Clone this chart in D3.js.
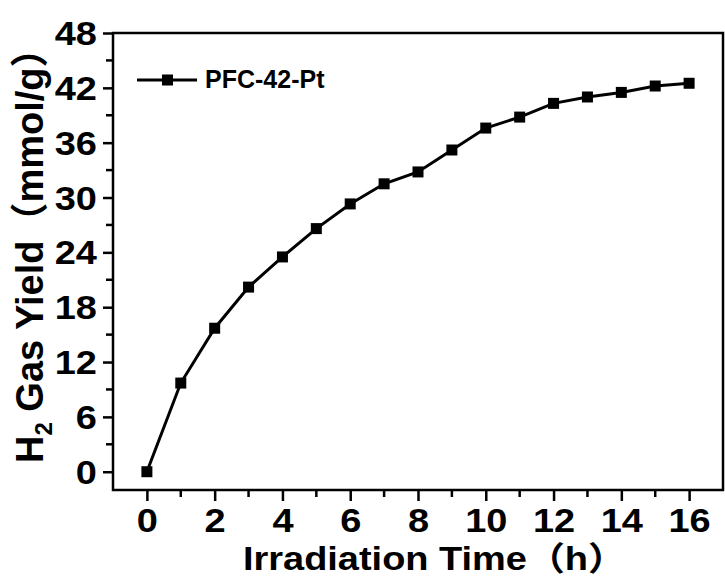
<!DOCTYPE html>
<html><head><meta charset="utf-8">
<script src="https://cdn.jsdelivr.net/npm/d3@7"></script>
<style>body{margin:0;background:#fff}svg{display:block}</style>
</head><body>
<script>
const hours = [0,1,2,3,4,5,6,7,8,9,10,11,12,13,14,15,16];
const yieldVals = [0,9.7,15.7,20.2,23.5,26.6,29.3,31.5,32.8,35.2,37.6,38.8,40.3,41.0,41.5,42.2,42.5];
const seriesName = "PFC-42-Pt";
const xTicks = [0,2,4,6,8,10,12,14,16];
const yTicks = [0,6,12,18,24,30,36,42,48];

const W=725,H=576;
const L=113,R=723,T=33,B=490;
const font = "'Liberation Sans', Arial, 'Noto Sans CJK SC', sans-serif";
const svg = d3.select("body").append("svg").attr("width",W).attr("height",H);
const x = d3.scaleLinear().domain([-1,17]).range([L,R]);
const y = d3.scaleLinear().domain([-2,48]).range([B,T]);

// box
svg.append("rect").attr("x",L).attr("y",T).attr("width",R-L).attr("height",B-T)
  .attr("fill","none").attr("stroke","#000").attr("stroke-width",2.5);

// minor ticks
const xMinor = [1,3,5,7,9,11,13,15];
svg.append("g").selectAll("line").data(xMinor).join("line")
  .attr("x1",d=>x(d)).attr("x2",d=>x(d)).attr("y1",B).attr("y2",B+7)
  .attr("stroke","#000").attr("stroke-width",2.5);
const yMinor = [3,9,15,21,27,33,39,45];
svg.append("g").selectAll("line").data(yMinor).join("line")
  .attr("y1",d=>y(d)).attr("y2",d=>y(d)).attr("x1",L).attr("x2",L-7)
  .attr("stroke","#000").attr("stroke-width",2.5);

// axes
const xa = svg.append("g").attr("transform",`translate(0,${B})`)
  .call(d3.axisBottom(x).tickValues(xTicks).tickSize(11).tickSizeOuter(0));
const ya = svg.append("g").attr("transform",`translate(${L},0)`)
  .call(d3.axisLeft(y).tickValues(yTicks).tickSize(10).tickSizeOuter(0));
[xa,ya].forEach(a=>{
  a.select(".domain").remove();
  a.selectAll(".tick line").attr("stroke","#000").attr("stroke-width",2.5);
  a.selectAll(".tick text").attr("fill","#000").style("font-family",font)
   .style("font-weight","bold").style("font-size","33px");
});
xa.selectAll(".tick text").attr("y",42).attr("dy",0).attr("transform","scale(1.15,1)");
ya.selectAll(".tick text").attr("x",-14).attr("dy","0.35em").attr("transform","scale(1.15,1)");

// line + markers
svg.append("path").datum(hours.map((h,i)=>[h,yieldVals[i]]))
  .attr("d",d3.line().x(d=>x(d[0])).y(d=>y(d[1])))
  .attr("fill","none").attr("stroke","#000").attr("stroke-width",3);
svg.append("g").selectAll("rect").data(hours).join("rect")
  .attr("x",(d)=>x(d)-5.5).attr("y",(d,i)=>y(yieldVals[i])-5.5)
  .attr("width",11).attr("height",11).attr("fill","#000");

// legend
const lg = svg.append("g");
lg.append("line").attr("x1",137).attr("x2",197).attr("y1",80).attr("y2",80)
  .attr("stroke","#000").attr("stroke-width",3);
lg.append("rect").attr("x",162).attr("y",74.5).attr("width",11).attr("height",11).attr("fill","#000");
lg.append("text").attr("x",205).attr("y",88).text(seriesName)
  .style("font-family",font).style("font-weight","bold").style("font-size","25px");

// x title
svg.append("text").attr("transform","translate(243,570) scale(1.15,1)")
  .style("font-family",font).style("font-weight","bold").style("font-size","33px")
  .text("Irradiation Time（h）");

// y title
const yt = svg.append("text").attr("transform","translate(43,463) rotate(-90)")
  .style("font-family",font).style("font-weight","bold").style("font-size","38px");
yt.append("tspan").text("H");
yt.append("tspan").text("2").style("font-size","24px").attr("dy",9);
yt.append("tspan").text(" Gas Yield（mmol/g）").attr("dy",-9);
</script>
</body></html>
